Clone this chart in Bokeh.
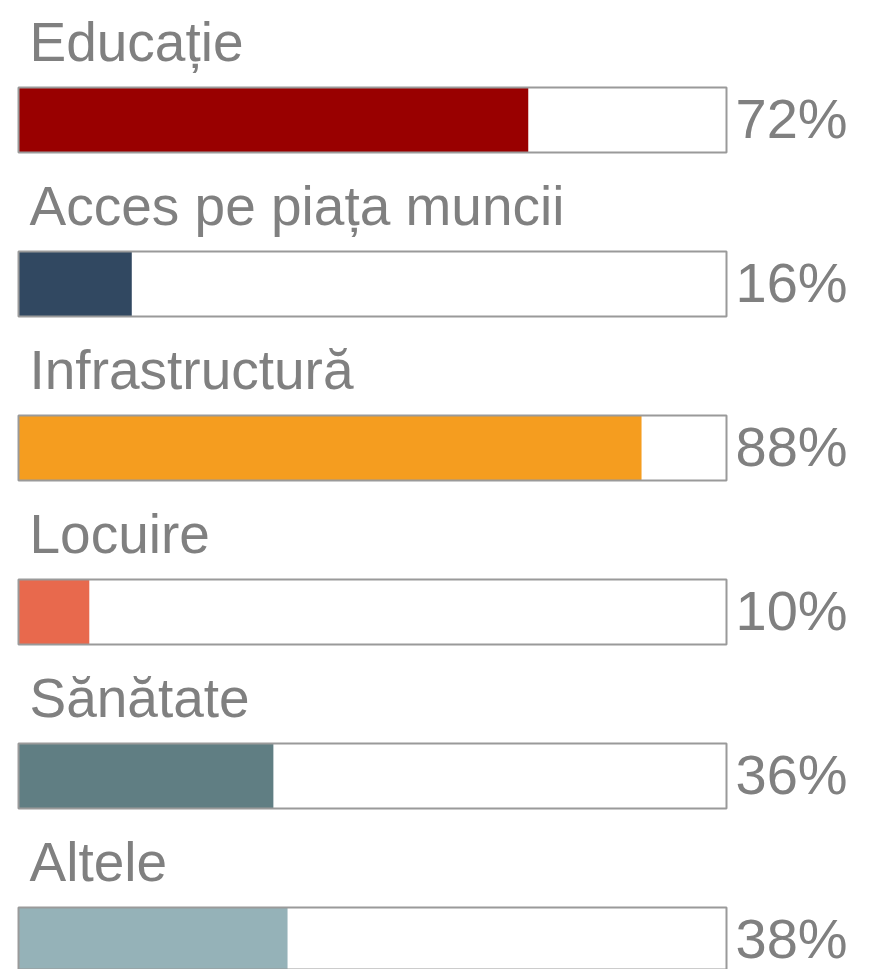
from bokeh.plotting import figure
from bokeh.models import Range1d, ColumnDataSource
from bokeh.core.properties import value
from bokeh.embed import file_html
from bokeh.resources import INLINE

categories = ["Educație", "Acces pe piața muncii", "Infrastructură", "Locuire", "Sănătate", "Altele"]
values = [72, 16, 88, 10, 36, 38]
colors = ["#990000", "#314861", "#F59D1F", "#E8694D", "#607E83", "#95B2B8"]

rows = list(range(len(categories)))
src = ColumnDataSource(dict(
    y=rows,
    v=values,
    full=[100] * len(values),
    c=colors,
    cat=categories,
    pct=[f"{v}%" for v in values],
))

W, H = 875, 969
px_per_unit = 7.08
row_px = 164.0
x_start = -18 / px_per_unit
x_end = x_start + W / px_per_unit
y_top = (0 - 119.5) / row_px
y_bottom = y_top + H / row_px

p = figure(width=W, height=H, output_backend="svg", toolbar_location=None,
           x_range=Range1d(x_start, x_end), y_range=Range1d(y_bottom, y_top),
           min_border=0, background_fill_color="white", border_fill_color="white")
p.axis.visible = False
p.grid.visible = False
p.outline_line_color = None

bar_h = 65 / row_px
p.hbar(y="y", left=0, right="v", height=bar_h, fill_color="c", line_color=None, source=src)
p.hbar(y="y", left=0, right="full", height=bar_h, fill_color=None,
       line_color="#9a9a9a", line_width=2, source=src)

p.text(x=0, y="y", text="cat", source=src, x_offset=11, y_offset=-78,
       text_font=value("Liberation Sans"), text_font_size="55px",
       text_color="#808080", text_baseline="alphabetic", text_align="left")
p.text(x=100, y="y", text="pct", source=src, x_offset=9, y_offset=-1.5,
       text_font=value("Liberation Sans"), text_font_size="56px",
       text_color="#808080", text_baseline="alphabetic", text_align="left")

open("out.html", "w").write(file_html(p, INLINE))
